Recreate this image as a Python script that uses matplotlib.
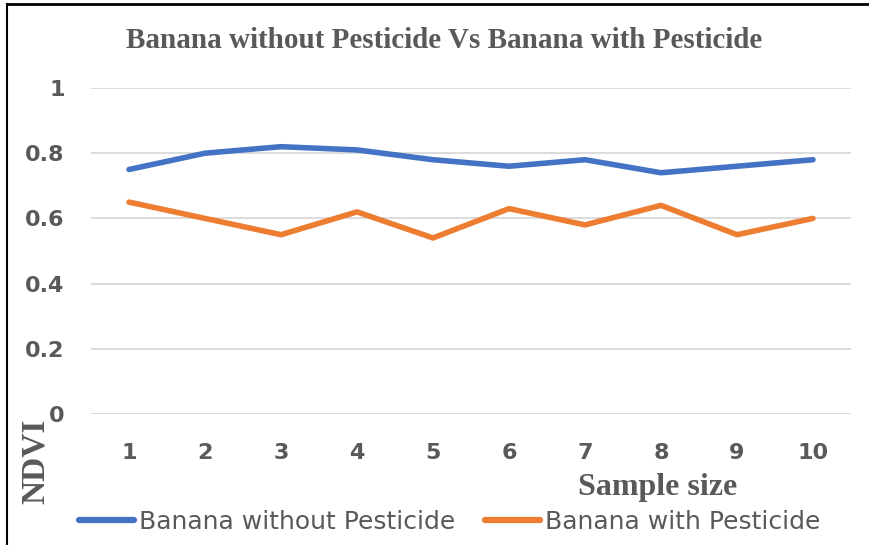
import matplotlib.pyplot as plt
from matplotlib.lines import Line2D

samples = [1, 2, 3, 4, 5, 6, 7, 8, 9, 10]
without_pesticide = [0.75, 0.80, 0.82, 0.81, 0.78, 0.76, 0.78, 0.74, 0.76, 0.78]
with_pesticide = [0.65, 0.60, 0.55, 0.62, 0.54, 0.63, 0.58, 0.64, 0.55, 0.60]
y_ticks = [0, 0.2, 0.4, 0.6, 0.8, 1]
y_labels = ['0', '0.2', '0.4', '0.6', '0.8', '1']

gray = '#595959'
blue = '#4472C4'
orange = '#ED7D31'

fig = plt.figure(figsize=(8.69, 5.45), dpi=100)
ax = fig.add_axes([91 / 869, 1 - 414 / 545, 760 / 869, 326 / 545])

ax.plot(samples, without_pesticide, color=blue, lw=4, solid_capstyle='round',
        label='Banana without Pesticide')
ax.plot(samples, with_pesticide, color=orange, lw=4, solid_capstyle='round',
        label='Banana with Pesticide')

ax.set_xlim(0.5, 10.5)
ax.set_ylim(0, 1)
ax.set_yticks(y_ticks)
ax.set_yticklabels(y_labels)
ax.set_xticks(samples)
ax.grid(axis='y', color='#D9D9D9', lw=1.3)
ax.set_axisbelow(True)
for s in ax.spines.values():
    s.set_visible(False)
ax.tick_params(length=0, labelcolor=gray, labelsize=16)
ax.tick_params(axis='y', pad=19)
ax.tick_params(axis='x', pad=21)
for lab in ax.get_xticklabels() + ax.get_yticklabels():
    lab.set_fontfamily('DejaVu Sans')
    lab.set_fontweight('bold')

fig.text(444 / 869, 1 - 41 / 545, 'Banana without Pesticide Vs Banana with Pesticide',
         ha='center', va='center', fontsize=21, fontweight='bold',
         family='Liberation Serif', color=gray)
fig.text(35 / 869, 1 - 461 / 545, 'NDVI', rotation=90, ha='center', va='center',
         fontsize=24, fontweight='bold', family='Liberation Serif', color=gray)
fig.text(658 / 869, 1 - 487 / 545, 'Sample size', ha='center', va='center',
         fontsize=23, fontweight='bold', family='Liberation Serif', color=gray)

handles = [Line2D([], [], color=blue, lw=4.5, solid_capstyle='round'),
           Line2D([], [], color=orange, lw=4.5, solid_capstyle='round')]
leg = fig.legend(handles, ['Banana without Pesticide', 'Banana with Pesticide'],
                 loc='center', bbox_to_anchor=(450 / 869, 1 - 522 / 545), ncol=2,
                 frameon=False, handlelength=2.2, handletextpad=0.2,
                 columnspacing=1.2, borderpad=0,
                 prop={'family': 'DejaVu Sans', 'size': 18})
for t in leg.get_texts():
    t.set_color(gray)

# image border (top and left)
fig.add_artist(Line2D([7 / 869, 7 / 869], [0, 1 - 4 / 545], color='black', lw=1.5))
fig.add_artist(Line2D([7 / 869, 1], [1 - 4 / 545, 1 - 4 / 545], color='black', lw=2))

fig.savefig('out.png', dpi=100)
